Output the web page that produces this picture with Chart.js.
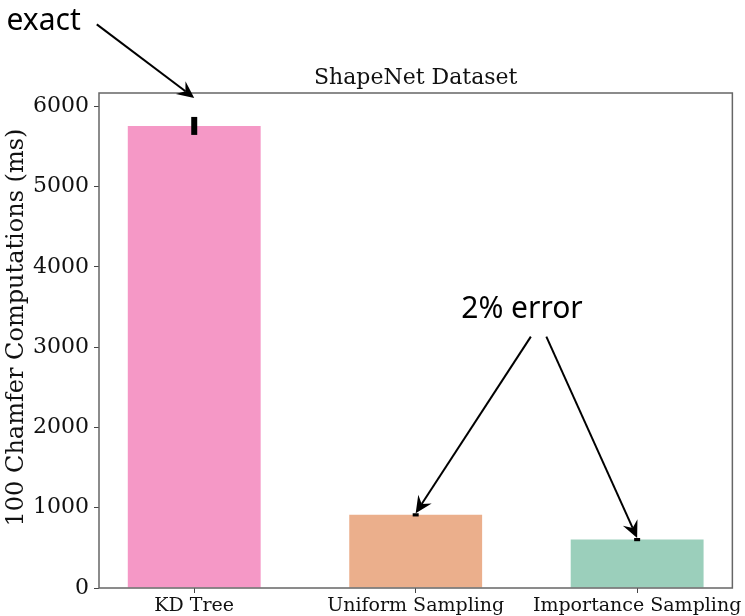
<!DOCTYPE html>
<html lang="en">
<head>
    <meta charset="UTF-8" />
    <title>ShapeNet Dataset</title>
    <script src="https://cdn.jsdelivr.net/npm/chart.js"></script>
    <style>
        body { margin: 0; background: #fff; }
        canvas { display: block; }
    </style>
</head>
<body>
    <canvas id="myChart" width="745" height="616"></canvas>

<script>
    // data
    const categories = ['KD Tree', 'Uniform Sampling', 'Importance Sampling'];
    const times = [5755, 911, 603];
    const errors = [112, 20, 20];
    const yTicks = [0, 1000, 2000, 3000, 4000, 5000, 6000];
    const barColors = ['#f598c6', '#ebaf8c', '#9bcfbb'];
    const yLabel = '100 Chamfer Computations (ms)';

    // annotations (in data units of the axes)
    const notes = [
        { text: 'exact', x: -0.68, y: 7060 },
        { text: '2% error', x: 1.48, y: 3470 }
    ];
    const arrows = [
        { from: [-0.44, 7020], bar: 0, gap: 19 },
        { from: [1.52, 3131], bar: 1, gap: 0 },
        { from: [1.59, 3131], bar: 2, gap: 0 }
    ];

    const serif = '"DejaVu Serif", serif';

    function drawArrow(ctx, x0, y0, x1, y1) {
        const ang = Math.atan2(y1 - y0, x1 - x0);
        const len = 17, half = 8, notch = 11;
        ctx.save();
        ctx.strokeStyle = '#000';
        ctx.fillStyle = '#000';
        ctx.lineWidth = 2;
        ctx.beginPath();
        ctx.moveTo(x0, y0);
        ctx.lineTo(x1 - Math.cos(ang) * notch, y1 - Math.sin(ang) * notch);
        ctx.stroke();
        ctx.translate(x1, y1);
        ctx.rotate(ang);
        ctx.beginPath();
        ctx.moveTo(0, 0);
        ctx.lineTo(-len, -half);
        ctx.lineTo(-notch, 0);
        ctx.lineTo(-len, half);
        ctx.closePath();
        ctx.fill();
        ctx.restore();
    }

    const extras = {
        id: 'extras',
        afterDatasetsDraw(chart) {
            const ctx = chart.ctx;
            const xs = chart.scales.x, ys = chart.scales.y;
            const area = chart.chartArea;

            // error bars
            ctx.save();
            ctx.strokeStyle = '#000';
            ctx.lineWidth = 6;
            for (let i = 0; i < times.length; i++) {
                const px = xs.getPixelForValue(i);
                ctx.beginPath();
                ctx.moveTo(px, ys.getPixelForValue(times[i] - errors[i]));
                ctx.lineTo(px, ys.getPixelForValue(times[i] + errors[i]));
                ctx.stroke();
            }
            ctx.restore();

            // frame
            ctx.save();
            ctx.strokeStyle = '#666';
            ctx.lineWidth = 1.5;
            ctx.strokeRect(area.left, area.top, area.right - area.left, area.bottom - area.top);
            ctx.restore();

            // title
            ctx.save();
            ctx.fillStyle = '#111';
            ctx.font = '22px ' + serif;
            ctx.textAlign = 'center';
            ctx.textBaseline = 'bottom';
            ctx.fillText('ShapeNet Dataset', (area.left + area.right) / 2, area.top - 4);
            ctx.restore();

            // y axis label
            ctx.save();
            ctx.fillStyle = '#111';
            ctx.font = '24px ' + serif;
            ctx.textAlign = 'center';
            ctx.textBaseline = 'middle';
            ctx.translate(17, area.top + (area.bottom - area.top) / 2 - 13);
            ctx.rotate(-Math.PI / 2);
            ctx.fillText(yLabel, 0, 0);
            ctx.restore();

            // notes
            ctx.save();
            ctx.fillStyle = '#000';
            ctx.font = '30px "Noto Sans"';
            ctx.textAlign = 'center';
            ctx.textBaseline = 'middle';
            notes.forEach(n => {
                ctx.fillText(n.text, xs.getPixelForValue(n.x), ys.getPixelForValue(n.y));
            });
            ctx.restore();

            arrows.forEach(a => {
                const tx = xs.getPixelForValue(a.bar);
                const ty = ys.getPixelForValue(times[a.bar] + errors[a.bar]) - a.gap;
                drawArrow(ctx, xs.getPixelForValue(a.from[0]), ys.getPixelForValue(a.from[1]), tx, ty);
            });
        }
    };

    const config = {
        type: 'bar',
        data: {
            datasets: [{
                data: times.map((v, i) => ({ x: i, y: v })),
                backgroundColor: barColors,
                borderWidth: 0,
                categoryPercentage: 1,
                barPercentage: 0.6
            }]
        },
        options: {
            responsive: false,
            animation: false,
            devicePixelRatio: 1,
            layout: { padding: { top: 93, right: 11, left: 0, bottom: 0 } },
            plugins: {
                legend: { display: false },
                tooltip: { enabled: false }
            },
            scales: {
                x: {
                    type: 'linear',
                    offset: false,
                    min: -0.43,
                    max: 2.43,
                    afterBuildTicks: s => { s.ticks = categories.map((c, i) => ({ value: i })); },
                    afterFit: s => { s.height = 28; },
                    grid: { drawOnChartArea: false, drawTicks: true, tickLength: 5, color: '#444', offset: false },
                    border: { display: false },
                    ticks: {
                        color: '#111',
                        padding: 2,
                        maxRotation: 0,
                        autoSkip: false,
                        font: { family: serif, size: 19 },
                        callback: v => categories[v]
                    }
                },
                y: {
                    min: 0,
                    max: 6165,
                    afterBuildTicks: s => { s.ticks = yTicks.map(v => ({ value: v })); },
                    afterFit: s => { s.width = 99; },
                    grid: { drawOnChartArea: false, drawTicks: true, tickLength: 5, color: '#444' },
                    border: { display: false },
                    ticks: {
                        color: '#111',
                        padding: 5,
                        font: { family: serif, size: 22 },
                        callback: v => String(v)
                    }
                }
            }
        },
        plugins: [extras]
    };

    const myChart = new Chart(document.getElementById('myChart'), config);
</script>
</body>
</html>
